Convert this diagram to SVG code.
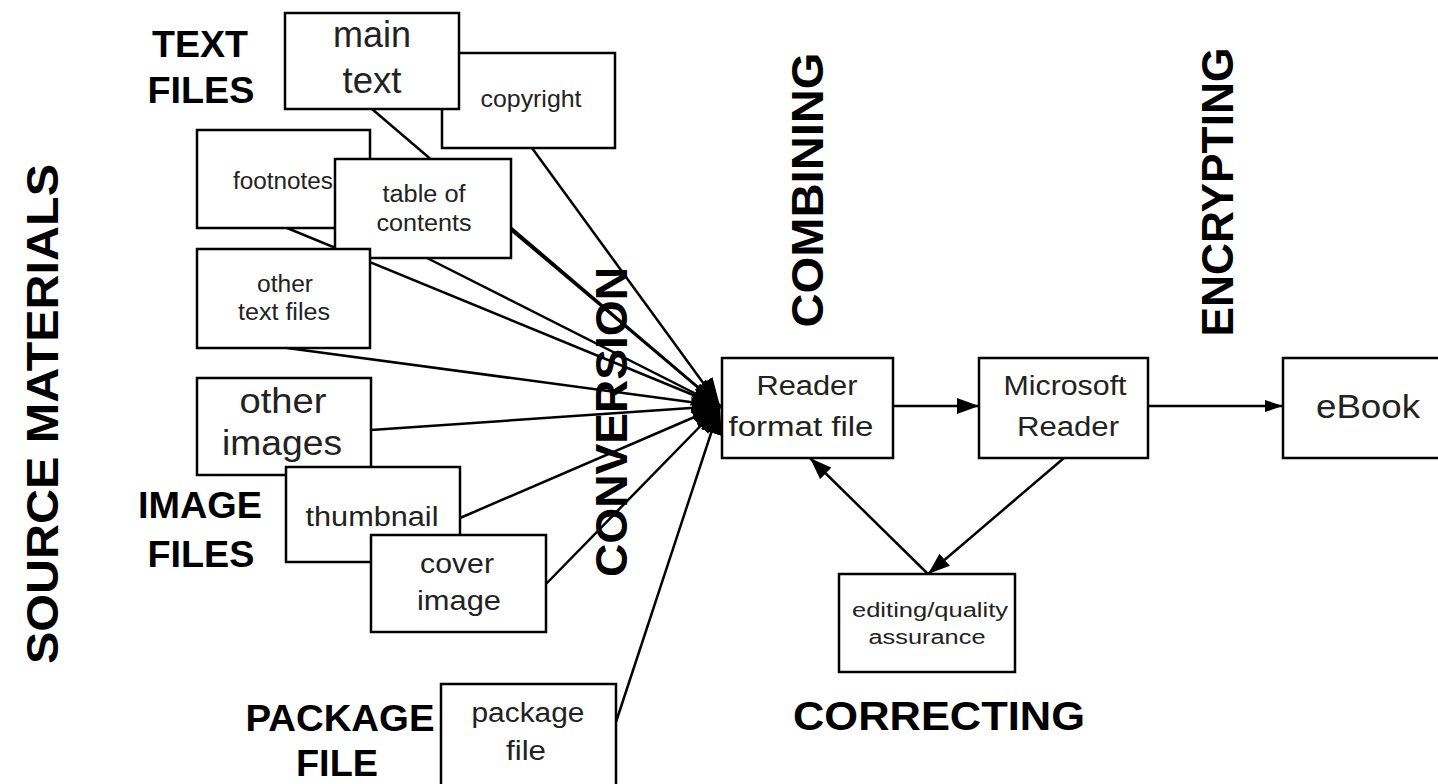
<svg xmlns="http://www.w3.org/2000/svg" width="1438" height="784" viewBox="0 0 1438 784">
<style>
.box{fill:#fff;stroke:#000;stroke-width:2.5}
.ln{fill:none;stroke:#000;stroke-width:2.5}
.t{font-family:"Liberation Sans",Arial,sans-serif;fill:#222;text-anchor:middle}
.b{font-family:"Liberation Sans",Arial,sans-serif;font-weight:bold;fill:#000;text-anchor:middle}
</style>
<defs>
<marker id="big" markerUnits="userSpaceOnUse" markerWidth="32" markerHeight="24" refX="28" refY="11" orient="auto"><path d="M0,0 L28,11 L0,22 z" fill="#000"/></marker>
<marker id="mid" markerUnits="userSpaceOnUse" markerWidth="24" markerHeight="16" refX="22" refY="8" orient="auto"><path d="M0,0 L22,8 L0,16 z" fill="#000"/></marker>
<marker id="sm" markerUnits="userSpaceOnUse" markerWidth="20" markerHeight="12" refX="18" refY="6" orient="auto"><path d="M0,0 L18,6 L0,12 z" fill="#000"/></marker>
</defs>
<rect width="1438" height="784" fill="#fff"/>
<g id="connectors">
<line class="ln" x1="372" y1="109" x2="720" y2="406" marker-end="url(#big)"/>
<line class="ln" x1="532" y1="148" x2="720" y2="406" marker-end="url(#big)"/>
<line class="ln" x1="511" y1="230" x2="720" y2="406" marker-end="url(#big)"/>
<line class="ln" x1="427" y1="258" x2="720" y2="406" marker-end="url(#big)"/>
<line class="ln" x1="287" y1="228" x2="720" y2="406" marker-end="url(#big)"/>
<line class="ln" x1="287" y1="348" x2="720" y2="406" marker-end="url(#big)"/>
<line class="ln" x1="371" y1="430" x2="720" y2="406" marker-end="url(#big)"/>
<line class="ln" x1="460" y1="518" x2="720" y2="406" marker-end="url(#big)"/>
<line class="ln" x1="546" y1="584" x2="720" y2="406" marker-end="url(#big)"/>
<line class="ln" x1="616" y1="722" x2="720" y2="406" marker-end="url(#big)"/>
<line class="ln" x1="893" y1="406" x2="979" y2="406" marker-end="url(#mid)"/>
<line class="ln" x1="1148" y1="406" x2="1283" y2="406" marker-end="url(#sm)"/>
<line class="ln" x1="1064" y1="458" x2="928" y2="574" marker-end="url(#mid)"/>
<line class="ln" x1="928" y1="574" x2="810" y2="458" marker-end="url(#mid)"/>
</g>
<g id="copyright"><rect class="box" x="442" y="53" width="173" height="95"/><text class="t" x="531" y="107" font-size="24" textLength="101" lengthAdjust="spacingAndGlyphs">copyright</text></g>
<g id="main-text"><rect class="box" x="285" y="13" width="174" height="96"/><text class="t" x="372" y="47" font-size="37" textLength="78" lengthAdjust="spacingAndGlyphs">main</text><text class="t" x="372" y="93" font-size="37" textLength="59" lengthAdjust="spacingAndGlyphs">text</text></g>
<g id="footnotes"><rect class="box" x="197" y="130" width="173" height="98"/><text class="t" x="283" y="189" font-size="23" textLength="100" lengthAdjust="spacingAndGlyphs">footnotes</text></g>
<g id="table-of-contents"><rect class="box" x="335" y="159" width="176" height="99"/><text class="t" x="424" y="202" font-size="23" textLength="83" lengthAdjust="spacingAndGlyphs">table of</text><text class="t" x="424" y="231" font-size="23" textLength="95" lengthAdjust="spacingAndGlyphs">contents</text></g>
<g id="other-text-files"><rect class="box" x="197" y="249" width="173" height="99"/><text class="t" x="285" y="292" font-size="23" textLength="56" lengthAdjust="spacingAndGlyphs">other</text><text class="t" x="284" y="320" font-size="23" textLength="92" lengthAdjust="spacingAndGlyphs">text files</text></g>
<g id="other-images"><rect class="box" x="197" y="378" width="174" height="97"/><text class="t" x="283" y="413" font-size="35" textLength="87" lengthAdjust="spacingAndGlyphs">other</text><text class="t" x="282" y="455" font-size="35" textLength="120" lengthAdjust="spacingAndGlyphs">images</text></g>
<g id="thumbnail"><rect class="box" x="286" y="467" width="174" height="95"/><text class="t" x="372" y="526" font-size="27" textLength="133" lengthAdjust="spacingAndGlyphs">thumbnail</text></g>
<g id="cover-image"><rect class="box" x="371" y="535" width="175" height="97"/><text class="t" x="457" y="573" font-size="28" textLength="74" lengthAdjust="spacingAndGlyphs">cover</text><text class="t" x="459" y="610" font-size="28" textLength="84" lengthAdjust="spacingAndGlyphs">image</text></g>
<g id="package-file"><rect class="box" x="441" y="684" width="175" height="110"/><text class="t" x="528" y="722" font-size="27" textLength="113" lengthAdjust="spacingAndGlyphs">package</text><text class="t" x="526" y="760" font-size="27" textLength="40" lengthAdjust="spacingAndGlyphs">file</text></g>
<g id="reader-format-file"><rect class="box" x="722" y="358" width="171" height="100"/><text class="t" x="807" y="395" font-size="27" textLength="101" lengthAdjust="spacingAndGlyphs">Reader</text><text class="t" x="801" y="436" font-size="27" textLength="145" lengthAdjust="spacingAndGlyphs">format file</text></g>
<g id="microsoft-reader"><rect class="box" x="979" y="358" width="169" height="100"/><text class="t" x="1065" y="395" font-size="27" textLength="123" lengthAdjust="spacingAndGlyphs">Microsoft</text><text class="t" x="1068" y="436" font-size="27" textLength="102" lengthAdjust="spacingAndGlyphs">Reader</text></g>
<g id="ebook"><rect class="box" x="1283" y="358" width="170" height="100"/><text class="t" x="1368" y="418" font-size="34" textLength="104" lengthAdjust="spacingAndGlyphs">eBook</text></g>
<g id="editing-quality-assurance"><rect class="box" x="839" y="574" width="176" height="98"/><text class="t" x="930" y="617" font-size="20" textLength="156" lengthAdjust="spacingAndGlyphs">editing/quality</text><text class="t" x="927" y="644" font-size="20" textLength="117" lengthAdjust="spacingAndGlyphs">assurance</text></g>
<g id="labels">
<text class="b" x="200" y="57" font-size="37" textLength="96" lengthAdjust="spacingAndGlyphs">TEXT</text>
<text class="b" x="201" y="103" font-size="37" textLength="107" lengthAdjust="spacingAndGlyphs">FILES</text>
<text class="b" x="200" y="518" font-size="37" textLength="124" lengthAdjust="spacingAndGlyphs">IMAGE</text>
<text class="b" x="201" y="567" font-size="37" textLength="107" lengthAdjust="spacingAndGlyphs">FILES</text>
<text class="b" x="340" y="731" font-size="37" textLength="189" lengthAdjust="spacingAndGlyphs">PACKAGE</text>
<text class="b" x="337" y="776" font-size="37" textLength="82" lengthAdjust="spacingAndGlyphs">FILE</text>
<text class="b" x="939" y="730" font-size="40" textLength="292" lengthAdjust="spacingAndGlyphs">CORRECTING</text>
<text class="b" transform="translate(58,414) rotate(-90)" font-size="44" textLength="500" lengthAdjust="spacingAndGlyphs">SOURCE MATERIALS</text>
<text class="b" transform="translate(627,422) rotate(-90)" font-size="44" textLength="310" lengthAdjust="spacingAndGlyphs">CONVERSION</text>
<text class="b" transform="translate(823,190) rotate(-90)" font-size="44" textLength="275" lengthAdjust="spacingAndGlyphs">COMBINING</text>
<text class="b" transform="translate(1233,192) rotate(-90)" font-size="44" textLength="289" lengthAdjust="spacingAndGlyphs">ENCRYPTING</text>
</g>
</svg>
